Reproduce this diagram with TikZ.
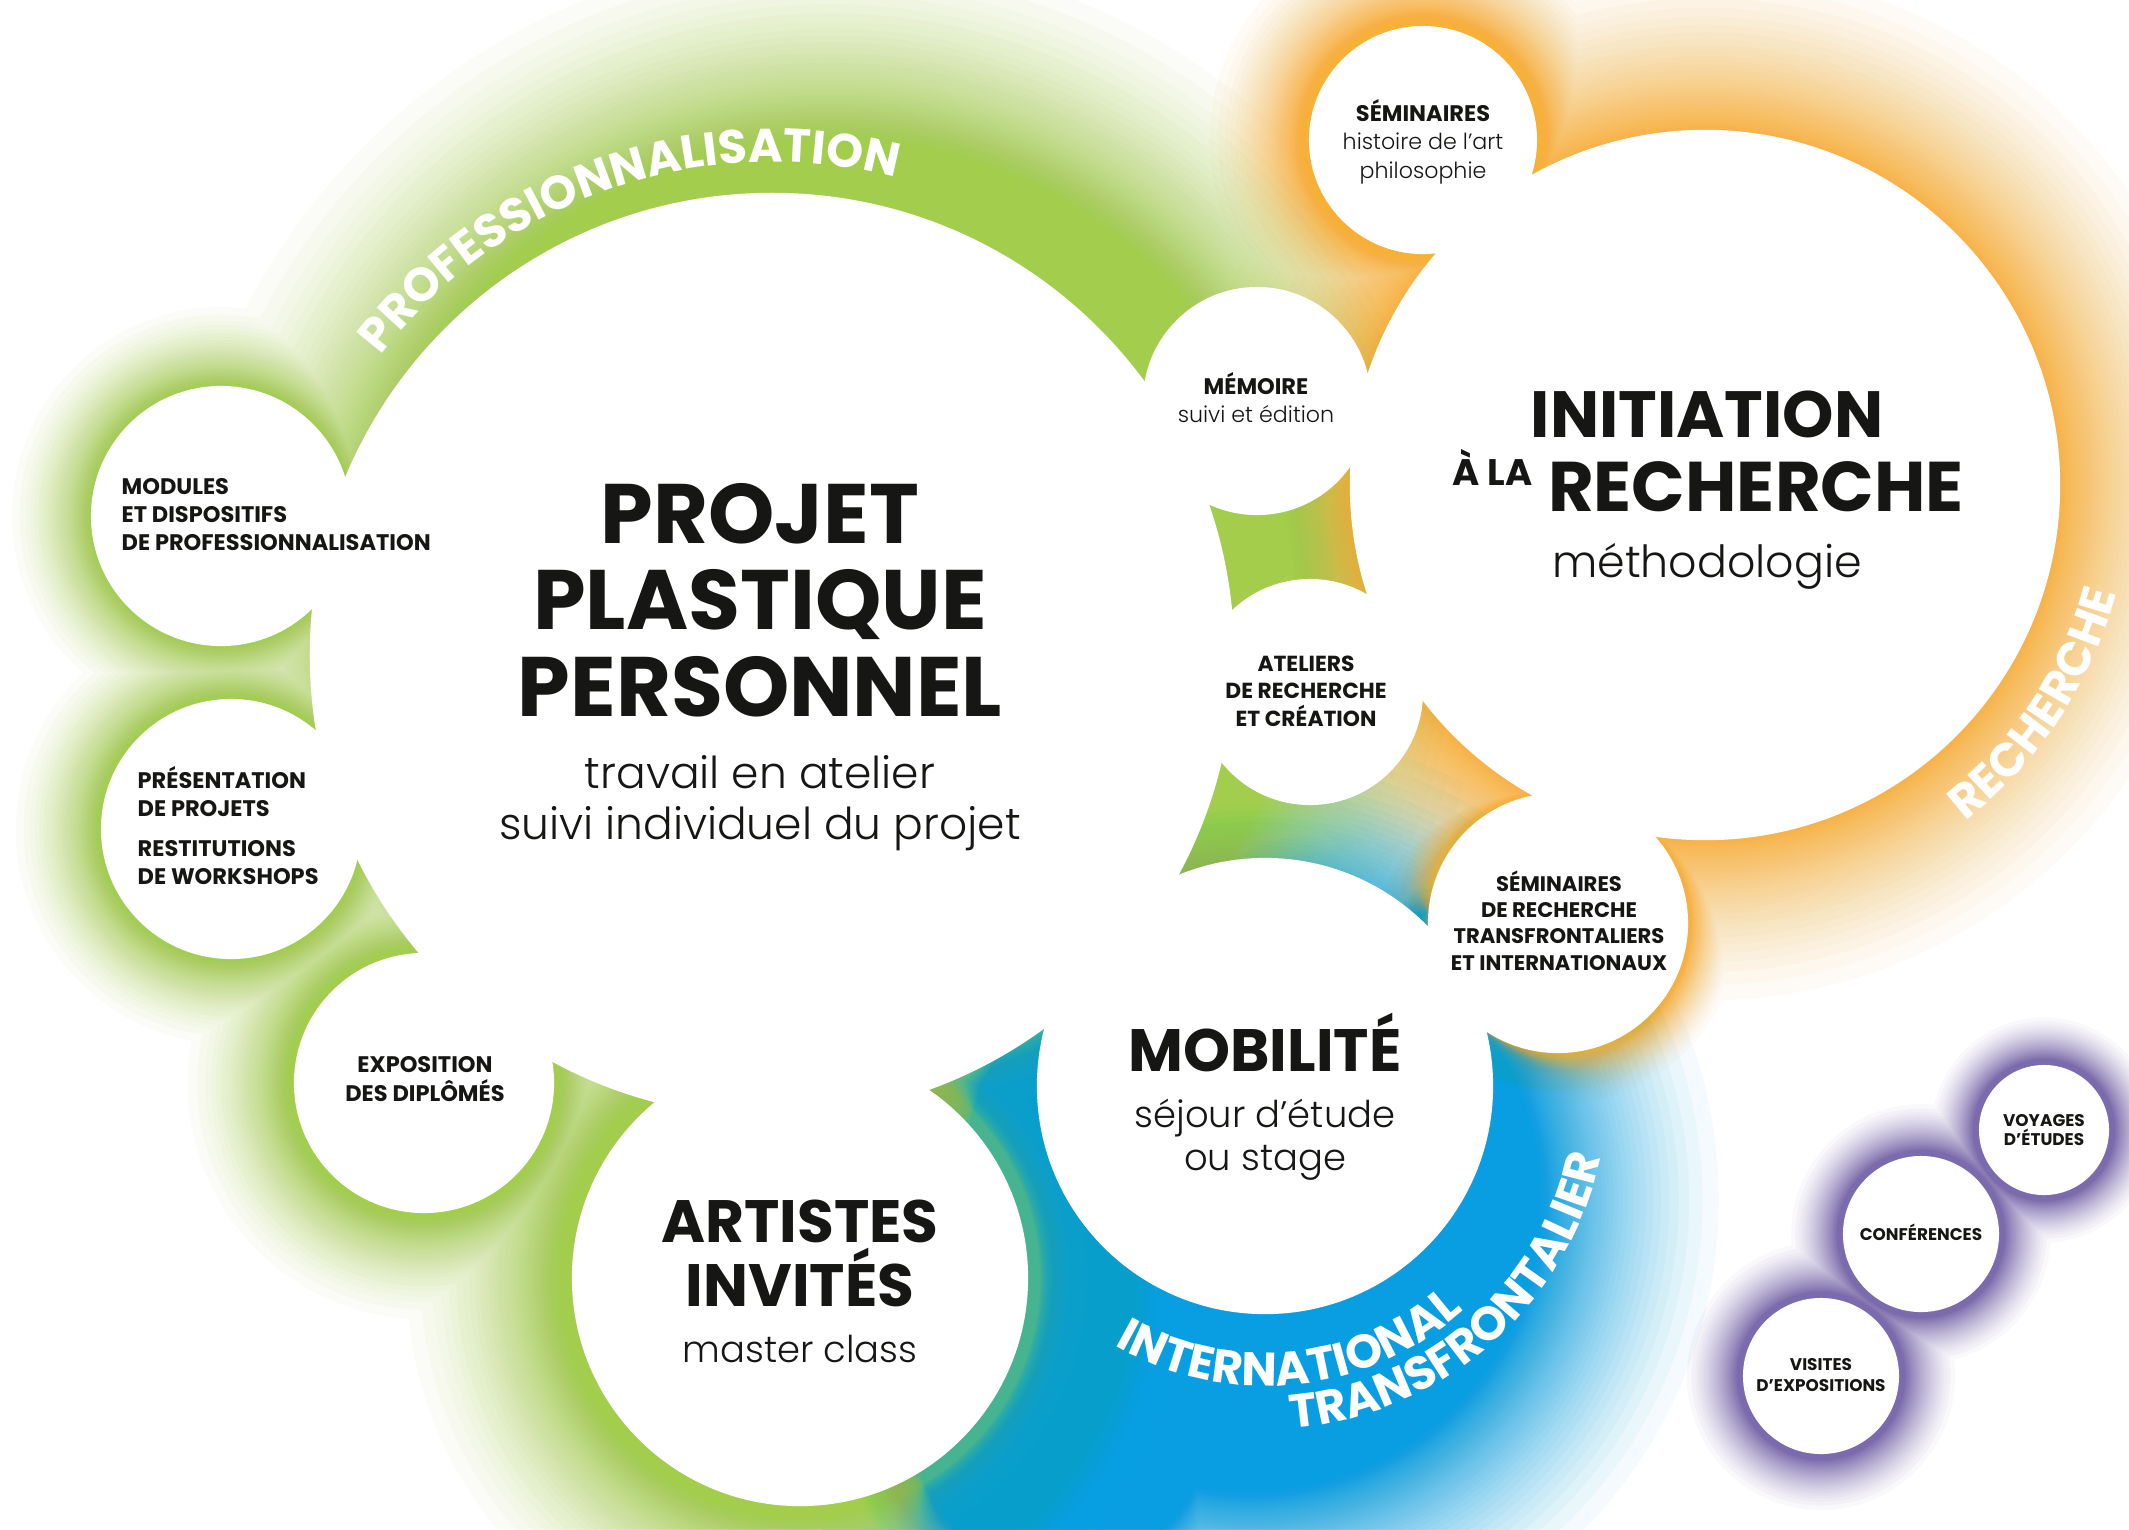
\documentclass[tikz,border=0pt]{standalone}
\usepackage{fontspec}
\setmainfont{Poppins}
\IfFontExistsTF{Poppins Light}{\newfontfamily\fin{Poppins Light}}{\newfontfamily\fin{Poppins}}
\usetikzlibrary{positioning}
\usetikzlibrary{backgrounds}
\usetikzlibrary{decorations.text}

\definecolor{vert}{RGB}{163,205,75}
\definecolor{jaune}{RGB}{247,176,52}
\definecolor{bleu}{RGB}{0,158,226}
\definecolor{mauve}{RGB}{124,106,174}
\definecolor{encre}{RGB}{22,22,20}

\newcommand{\arcfont}{\bfseries\fontsize{13.4}{14}\selectfont}

\tikzset{
  bulle/.style={circle, fill=white, inner sep=0pt, minimum size=#1},
  titre/.style n args={2}{font=\bfseries\fontsize{#1}{#2}\selectfont, text=encre, align=center, anchor=base, inner sep=0pt},
  sous/.style n args={2}{font=\fin\fontsize{#1}{#2}\selectfont, text=encre, align=center, anchor=base, inner sep=0pt},
  arc texte/.style={decorate, decoration={text along path, text color=white, text align=center, text={|\arcfont|#1}}},
}

\begin{document}
\begin{tikzpicture}[x=0.01cm, y=-0.01cm]
\useasboundingbox (0,0) rectangle (2129,1529);

% bulles
\node[bulle=9.24cm] (projet) at (772,655) {};
\node[bulle=7.10cm] (initiation) at (1705,485) {};
\node[bulle=2.28cm] (seminaires) at (1423,140) {};
\node[bulle=2.28cm] (memoire) at (1257,401) {};
\node[bulle=2.26cm] (ateliers) at (1310,692) {};
\node[bulle=2.60cm] (semrech) at (1558,923) {};
\node[bulle=4.56cm] (mobilite) at (1265,1086) {};
\node[bulle=4.56cm] (artistes) at (800,1278) {};
\node[bulle=2.60cm] (expo) at (424,1083) {};
\node[bulle=2.60cm] (presentation) at (231,829) {};
\node[bulle=2.60cm] (modules) at (221,516) {};
\node[bulle=1.30cm] (voyages) at (2044,1130) {};
\node[bulle=1.56cm] (conferences) at (1921,1234) {};
\node[bulle=1.56cm] (visites) at (1821,1376) {};

% halos de couleur
\begin{scope}[on background layer]
  \fill[white] (0,0) rectangle (2129,1529);
  \foreach \k in {1,...,60}{
    \pgfmathsetmacro{\f}{max(0,1-((1-0.956^\k)/0.933)^0.625)}
    \fill[vert, opacity=.044] (830,610) circle[radius=470+220*\f]
      (modules.center) circle[radius=128+95*\f]
      (presentation.center) circle[radius=130+100*\f]
      (expo.center) circle[radius=134+120*\f]
      (artistes.center) circle[radius=240+180*\f];
    \fill[bleu, opacity=.044] (1250,1200) circle[radius=290+210*\f]
      (1060,1420) circle[radius=150+130*\f]
      (1440,960) circle[radius=50+90*\f];
    \fill[jaune, opacity=.044] (initiation.center) circle[radius=345+200*\f]
      (seminaires.center) circle[radius=120+110*\f]
      (semrech.center) circle[radius=130+60*\f];
    \fill[mauve, opacity=.044] (voyages.center) circle[radius=70+50*\f]
      (conferences.center) circle[radius=83+55*\f]
      (visites.center) circle[radius=83+60*\f];
  }
\end{scope}

% textes
\node[titre={24}{24.5}] (projet-t) at (760,716) {PROJET\\PLASTIQUE\\PERSONNEL};
\node[sous={12.5}{14.5}] (projet-s) at (760,839) {travail en atelier\\suivi individuel du projet};

\node[titre={18.6}{20}] (init-t) at (1707,437) {INITIATION};
\node[titre={20}{20}] (rech-t) at (1756,511) {RECHERCHE};
\node[titre={10.5}{11}, anchor=base east] (ala-t) at (1533,485) {À LA};
\node[sous={12.6}{14}] (init-s) at (1707,577) {méthodologie};

\node[titre={17}{18.2}] (art-t) at (800,1306) {ARTISTES\\INVITÉS};
\node[sous={10.5}{12}] (art-s) at (800,1362) {master class};

\node[titre={17}{17}] (mob-t) at (1265,1071) {MOBILITÉ};
\node[sous={10.5}{12}] (mob-s) at (1265,1170) {séjour d’étude\\ou stage};

\node[titre={6.4}{7.9}, align=left, anchor=base west] (mod-t) at (121,550) {MODULES\\ET DISPOSITIFS\\DE PROFESSIONNALISATION};
\node[titre={6.4}{7.7}, align=left, anchor=base west] (pres-t) at (137,816) {PRÉSENTATION\\DE PROJETS};
\node[titre={6.4}{7.7}, align=left, anchor=base west] (rest-t) at (137,884) {RESTITUTIONS\\DE WORKSHOPS};
\node[titre={6.4}{8}] (expo-t) at (425,1101) {EXPOSITION\\DES DIPLÔMÉS};
\node[titre={6.4}{8}] (sem-t) at (1423,121) {SÉMINAIRES};
\node[sous={6.3}{8.2}] (sem-s) at (1423,178) {histoire de l’art\\philosophie};
\node[titre={6.4}{8}] (mem-t) at (1256,394) {MÉMOIRE};
\node[sous={6.3}{8}] (mem-s) at (1256,422) {suivi et édition};
\node[titre={6.2}{7.7}] (atel-t) at (1306,726) {ATELIERS\\DE RECHERCHE\\ET CRÉATION};
\node[titre={6.0}{7.4}] (semr-t) at (1559,970) {SÉMINAIRES\\DE RECHERCHE\\TRANSFRONTALIERS\\ET INTERNATIONAUX};
\node[titre={4.8}{5.4}] (voy-t) at (2044,1145) {VOYAGES\\D’ÉTUDES};
\node[titre={4.8}{5.4}] (conf-t) at (1921,1240) {CONFÉRENCES};
\node[titre={4.8}{5.8}] (vis-t) at (1821,1391) {VISITES\\D’EXPOSITIONS};

% textes courbes
\path[arc texte=PROFESSIONNALISATION] (projet.center) ++(-160:493) arc[start angle=-160, end angle=-58, radius=493];
\path[arc texte=RECHERCHE] (initiation.center) ++(70:425) arc[start angle=70, end angle=-3, radius=425];
\path[arc texte=INTERNATIONAL] (mobilite.center) ++(150:300) arc[start angle=150, end angle=18.4, radius=300];
\path[arc texte=TRANSFRONTALIER] (mobilite.center) ++(110:343) arc[start angle=110, end angle=-12.6, radius=343];
\end{tikzpicture}
\end{document}
